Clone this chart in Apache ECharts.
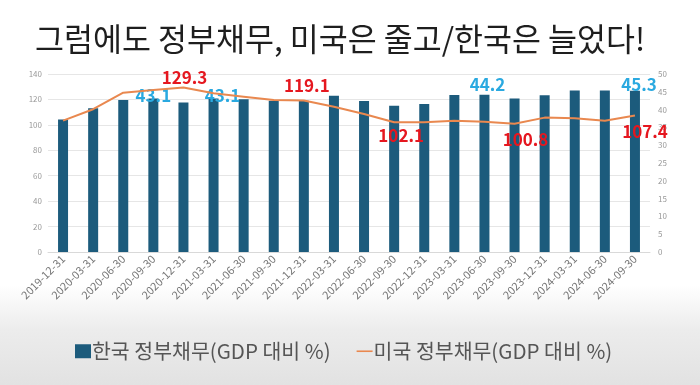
<!DOCTYPE html>
<html><head><meta charset="utf-8">
<script src="https://cdn.jsdelivr.net/npm/echarts@6/dist/echarts.min.js"></script>
<style>
html,body{margin:0;padding:0;}
body{width:700px;height:385px;background:linear-gradient(to bottom,#ffffff 0px,#ffffff 285px,#ececec 330px,#e2e2e2 385px);}
#c{width:700px;height:385px;}
</style></head>
<body><div id="c"></div>
<script>
const titleText = '그럼에도 정부채무, 미국은 줄고/한국은 늘었다!';
const categories = ['2019-12-31','2020-03-31','2020-06-30','2020-09-30','2020-12-31','2021-03-31','2021-06-30','2021-09-30','2021-12-31','2022-03-31','2022-06-30','2022-09-30','2022-12-31','2023-03-31','2023-06-30','2023-09-30','2023-12-31','2024-03-31','2024-06-30','2024-09-30'];
const koreaName = '한국 정부채무(GDP 대비 %)';
const usName = '미국 정부채무(GDP 대비 %)';
const koreaDebt = [37.2, 40.4, 42.7, 43.1, 42.0, 43.1, 42.9, 42.5, 42.5, 43.9, 42.4, 41.1, 41.6, 44.1, 44.2, 43.1, 44.0, 45.4, 45.4, 45.3];
const usDebt = [103.3, 112.3, 125.3, 127.5, 129.3, 124.8, 122.2, 119.6, 119.1, 114.3, 108.6, 102.1, 102.0, 103.3, 102.5, 100.8, 105.7, 105.2, 103.3, 107.4];
const leftTicks = [0, 20, 40, 60, 80, 100, 120, 140];
const rightTicks = [0, 5, 10, 15, 20, 25, 30, 35, 40, 45, 50];

// which points carry a value label, with their label placement
const koreaLabelIdx = [3, 5, 14, 19];
const usLabelIdx = [4, 8, 11, 15, 19];
const koreaLabelOffset = {3: [0, 10], 5: [9, 10], 14: [3, 3], 19: [4, 7]};
const usLabelCfg = {4: ['top', [1, 3]], 8: ['top', [3, -2]], 11: ['bottom', [7, 0]], 15: ['bottom', [11, 2]], 19: ['bottom', [10, 3]]};

const chart = echarts.init(document.getElementById('c'), null, {renderer: 'canvas'});
const font = "'Noto Sans CJK KR', 'Noto Sans', sans-serif";

const barData = koreaDebt.map((v, i) => {
  if (koreaLabelIdx.includes(i)) {
    return {value: v, label: {show: true, position: 'top', offset: koreaLabelOffset[i],
      color: '#2AA9E0', fontSize: 17, fontWeight: 'bold', fontFamily: font, formatter: p => p.value.toFixed(1)}};
  }
  return v;
});
const lineData = usDebt.map((v, i) => {
  if (usLabelIdx.includes(i)) {
    return {value: v, label: {show: true, position: usLabelCfg[i][0], offset: usLabelCfg[i][1],
      color: '#E5171F', fontSize: 17, fontWeight: 'bold', fontFamily: font, formatter: p => p.value.toFixed(1)}};
  }
  return v;
});

chart.setOption({
  backgroundColor: 'transparent',
  animation: false,
  textStyle: {fontFamily: font},
  title: {text: titleText, left: 30, top: 18,
    textStyle: {fontSize: 31.5, fontWeight: 'normal', color: '#1e1e1e', fontFamily: font}},
  legend: {
    data: [{name: koreaName, icon: 'rect'}, {name: usName, icon: 'path://M0 0H20V2H0Z'}],
    left: 70, top: 336, itemGap: 26, itemWidth: 16, itemHeight: 14,
    textStyle: {fontSize: 20.5, color: '#555', fontFamily: font, padding: [0,0,0,-4]}
  },
  grid: {left: 48, right: 50, top: 74, bottom: 133},
  xAxis: {
    type: 'category', data: categories,
    axisLine: {lineStyle: {color: '#d9d9d9'}},
    axisTick: {show: false},
    axisLabel: {rotate: 45, fontSize: 11, color: '#777', margin: 5, interval: 0}
  },
  yAxis: [
    {type: 'value', min: leftTicks[0], max: leftTicks[leftTicks.length-1], interval: 20, position: 'left',
      axisLine: {show: false}, axisTick: {show: false},
      axisLabel: {fontSize: 8, color: '#999', margin: 6},
      splitLine: {lineStyle: {color: '#e6e6e6'}}},
    {type: 'value', min: rightTicks[0], max: rightTicks[rightTicks.length-1], interval: 5, position: 'right',
      axisLine: {show: false}, axisTick: {show: false},
      axisLabel: {fontSize: 8, color: '#999', margin: 8},
      splitLine: {show: false}}
  ],
  series: [
    {name: koreaName, type: 'bar', yAxisIndex: 1, data: barData, barWidth: 10,
      itemStyle: {color: '#1C5B7C'}, z: 2},
    {name: usName, type: 'line', yAxisIndex: 0, data: lineData, showSymbol: true, symbol: 'circle', symbolSize: 0.01,
      lineStyle: {color: '#E9884F', width: 2}, itemStyle: {color: '#E9884F'}, z: 3}
  ]
});
</script>
</body></html>
